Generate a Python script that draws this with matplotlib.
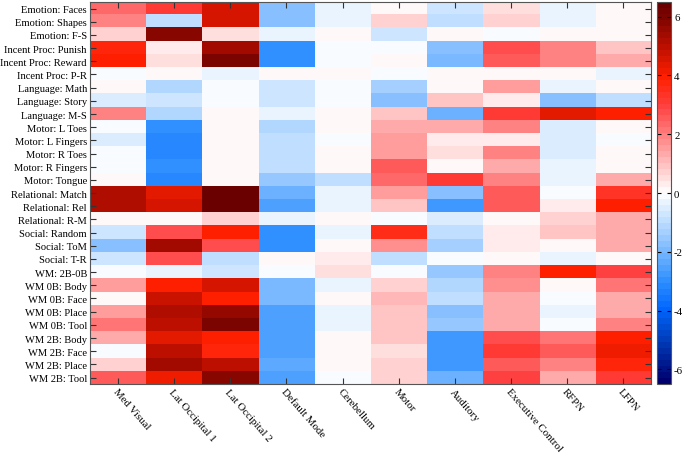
import matplotlib
matplotlib.use("Agg")
import matplotlib.pyplot as plt
import numpy as np
from matplotlib.colors import LinearSegmentedColormap

plt.rcParams['font.family'] = ['Liberation Serif', 'DejaVu Serif']
plt.rcParams['axes.unicode_minus'] = False

tasks = ["Emotion: Faces", "Emotion: Shapes", "Emotion: F-S",
         "Incent Proc: Punish", "Incent Proc: Reward", "Incent Proc: P-R",
         "Language: Math", "Language: Story", "Language: M-S",
         "Motor: L Toes", "Motor: L Fingers", "Motor: R Toes", "Motor: R Fingers",
         "Motor: Tongue", "Relational: Match", "Relational: Rel", "Relational: R-M",
         "Social: Random", "Social: ToM", "Social: T-R", "WM: 2B-0B",
         "WM 0B: Body", "WM 0B: Face", "WM 0B: Place", "WM 0B: Tool",
         "WM 2B: Body", "WM 2B: Face", "WM 2B: Place", "WM 2B: Tool"]

networks = ["Med Visual", "Lat Occipital 1", "Lat Occipital 2", "Default Mode",
            "Cerebellum", "Motor", "Auditory", "Executive Control", "RFPN", "LFPN"]

# one list per network (column), values per task (row)
med_visual = [2.3, 2.0, 0.7, 3.8, 4.0, -0.2, 0.0, -0.6, 1.9, -0.2, -0.5, -0.2, -0.2, 0.0,
              5.1, 5.1, 0.0, -0.8, -1.8, -0.8, -0.2, 1.5, 0.0, 1.5, 2.1, 1.4, -0.2, 0.8, 2.6]
lat_occ1 = [3.1, -0.9, 5.8, 0.3, 0.5, 0.0, -1.2, -0.7, -1.1, -3.0, -3.2, -3.2, -3.0, -3.1,
            4.4, 4.6, 0.0, 2.8, 5.4, 2.8, -0.4, 4.0, 4.7, 5.1, 5.0, 4.3, 5.0, 5.4, 4.1]
lat_occ2 = [4.5, 4.5, 0.5, 5.4, 6.0, -0.4, -0.2, -0.2, 0.0, 0.0, 0.2, 0.0, 0.0, 0.2,
            6.3, 6.3, 0.7, 4.0, 2.8, -0.9, -0.8, 4.6, 4.0, 5.6, 5.9, 4.0, 3.7, 5.0, 5.7]
default_mode = [-1.8, -1.8, -0.4, -3.0, -3.0, 0.0, -0.7, -0.8, -0.4, -1.2, -0.9, -0.9, -0.9, -1.6,
                -2.2, -2.6, -0.4, -3.0, -3.0, 0.0, -0.2, -1.9, -2.0, -2.5, -2.5, -2.6, -2.6, -2.3, -2.6]
cerebellum = [-0.4, -0.4, 0.0, -0.2, -0.2, 0.0, -0.2, -0.2, 0.0, 0.0, -0.2, 0.0, 0.0, -1.0,
              -0.3, -0.3, 0.0, -0.3, 0.0, 0.4, 0.6, -0.3, 0.0, -0.4, -0.3, 0.0, 0.2, 0.0, -0.2]
motor = [0.0, 0.7, -0.8, -0.2, 0.0, -0.2, -1.4, -1.8, 1.0, 1.3, 1.6, 1.5, 2.6, 2.4,
         1.5, 1.0, -0.1, 3.6, 1.8, -1.0, -0.1, 0.7, 1.2, 1.0, 1.0, 1.0, 0.5, 0.8, 0.8]
auditory = [-0.7, -0.9, 0.0, -1.8, -2.0, 0.0, 0.0, 1.0, -2.2, 1.3, 0.4, 0.6, 0.0, 3.2,
            -1.8, -2.7, -0.6, -1.0, -1.4, -0.1, -1.6, -1.2, -0.9, -1.8, -1.5, -2.8, -2.8, -2.8, -2.2]
exec_control = [0.5, 0.8, -0.2, 2.7, 2.6, 0.0, 1.5, 0.4, 3.2, 2.0, 0.4, 1.9, 1.4, 1.9,
                2.6, 2.6, 0.0, 0.4, 0.4, 0.0, 2.0, 1.7, 1.4, 1.4, 1.4, 2.8, 3.2, 2.6, 3.0]
rfpn = [-0.4, -0.4, 0.0, 2.0, 2.0, 0.0, -0.4, -1.8, 4.4, -0.6, -0.6, -0.6, -0.4, -0.4,
        -0.1, 0.3, 0.7, 1.0, 0.2, -0.4, 4.0, 0.2, -0.2, -0.3, -0.1, 2.1, 2.6, 2.0, 1.4]
lfpn = [0.0, 0.0, 0.0, 1.0, 1.4, -0.4, 0.2, -1.0, 4.0, 0.0, -0.2, 0.0, 0.0, 1.3,
        3.4, 4.0, 1.3, 1.3, 1.3, 0.0, 3.0, 2.1, 1.4, 1.4, 2.0, 3.9, 4.1, 3.8, 3.2]

data = np.array([med_visual, lat_occ1, lat_occ2, default_mode, cerebellum,
                 motor, auditory, exec_control, rfpn, lfpn]).T

vmin, vmax = -6.5, 6.5
nodes = [(-6.5, "#00006e"), (-5, "#0040c0"), (-4, "#0066ff"), (-3, "#3090ff"),
         (-2, "#78b8ff"), (-1, "#bcdcff"), (0, "#ffffff"), (1, "#ffc0c0"),
         (2, "#ff8080"), (3, "#ff4040"), (4, "#ff2000"), (5, "#c01000"),
         (6, "#800500"), (6.5, "#6a0000")]
cmap = LinearSegmentedColormap.from_list(
    "bwr_custom", [((v - vmin) / (vmax - vmin), c) for v, c in nodes], N=64)

fig = plt.figure(figsize=(6.85, 4.64), dpi=100)
ax = fig.add_axes([0.131, 0.170, 0.820, 0.8235])
cax = fig.add_axes([0.9595, 0.170, 0.0205, 0.8235])

im = ax.imshow(data, cmap=cmap, vmin=vmin, vmax=vmax, aspect="auto",
               interpolation="nearest")

ax.set_yticks(np.arange(len(tasks)))
ax.set_yticklabels(tasks, fontsize=7.6)
ax.set_xticks(np.arange(len(networks)))
ax.set_xticklabels(networks, fontsize=7.8, rotation=-49, ha="left",
                   rotation_mode="anchor")
ax.tick_params(direction="in", length=4, width=0.8, color="#333333",
               top=True, right=True, bottom=True, left=True, pad=2)
for s in ax.spines.values():
    s.set_color("#555555")
    s.set_linewidth(0.8)

cb = fig.colorbar(im, cax=cax, ticks=[-6, -4, -2, 0, 2, 4, 6])
cb.ax.tick_params(labelsize=7.8, direction="in", length=3, width=0.8,
                  left=True, right=True, pad=2)
cb.outline.set_edgecolor("#555555")
cb.outline.set_linewidth(0.8)

fig.savefig("out.png", dpi=100)
